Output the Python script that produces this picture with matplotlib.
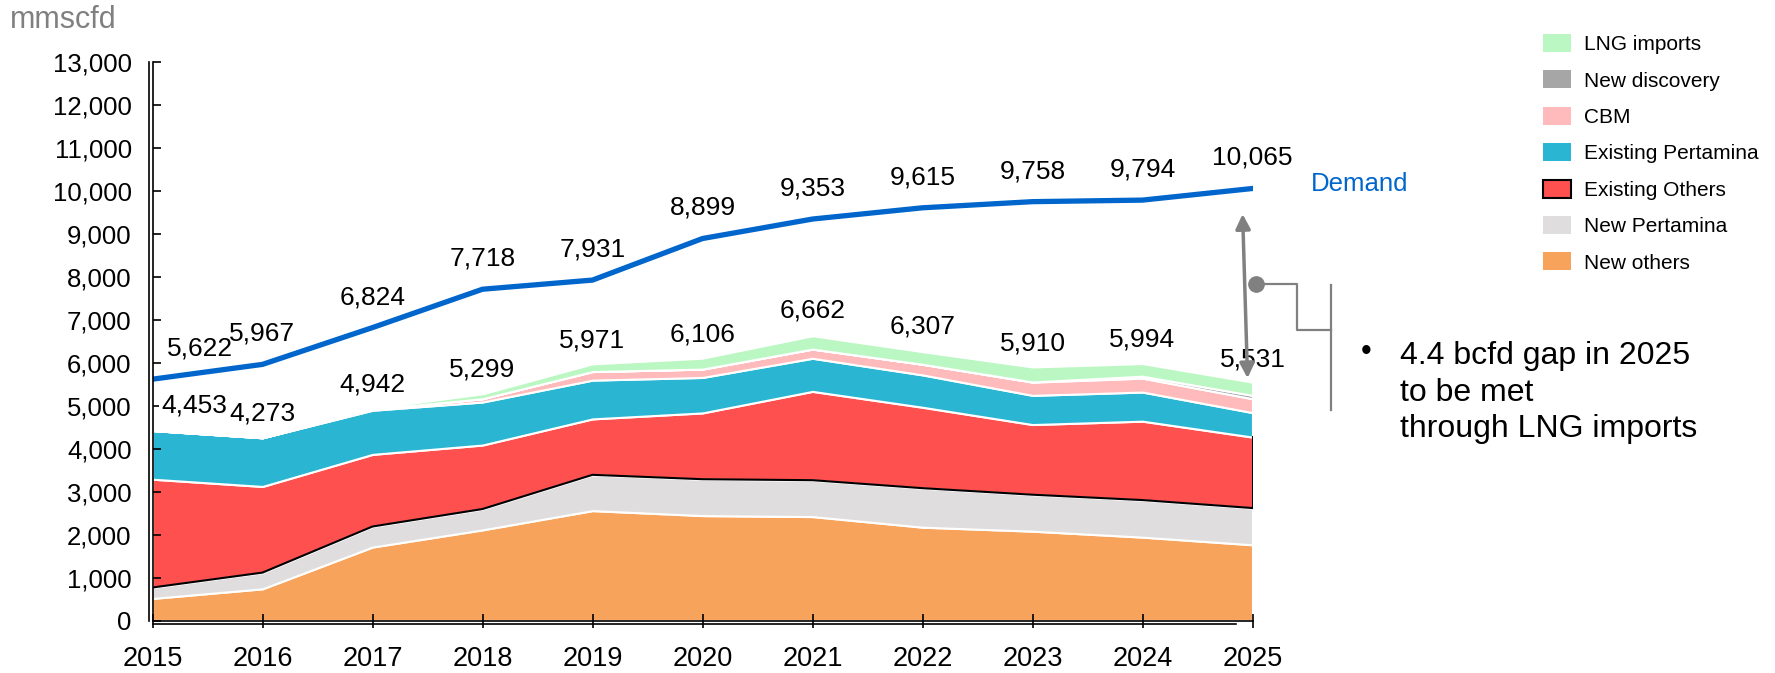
import numpy as np
import matplotlib
matplotlib.use("Agg")
import matplotlib.pyplot as plt
from matplotlib.patches import Patch
from matplotlib.ticker import StrMethodFormatter
from matplotlib.transforms import offset_copy

plt.rcParams['font.family'] = ['Liberation Sans', 'DejaVu Sans']

years = np.arange(2015, 2026)

# gas supply by source, mmscfd (stacked, bottom to top)
new_others = [514, 738, 1711, 2111, 2560, 2444, 2421, 2174, 2081, 1942, 1764]
new_pertamina = [255, 378, 479, 486, 834, 848, 848, 909, 850, 864, 856]
existing_others = [2523, 2007, 1680, 1491, 1303, 1544, 2069, 1885, 1634, 1838, 1653]
existing_pertamina = [1134, 1134, 1028, 1002, 903, 826, 771, 754, 680, 678, 570]
cbm = [0, 0, 20, 77, 200, 195, 215, 248, 308, 324, 324]
new_discovery = [0, 0, 0, 0, 0, 0, 0, 0, 5, 46, 78]
lng_imports = [27, 16, 24, 115, 180, 255, 310, 294, 349, 294, 308]

supply_labels = [4453, 4273, 4942, 5299, 5971, 6106, 6662, 6307, 5910, 5994, 5531]
demand = [5622, 5967, 6824, 7718, 7931, 8899, 9353, 9615, 9758, 9794, 10065]

layers = [new_others, new_pertamina, existing_others, existing_pertamina,
          cbm, new_discovery, lng_imports]
names = ['New others', 'New Pertamina', 'Existing Others', 'Existing Pertamina',
         'CBM', 'New discovery', 'LNG imports']
colors = ['#F7A35C', '#DFDDDE', '#FF5050', '#2AB6D2', '#FFBBBB', '#A6A6A6', '#BBF7C2']

fig = plt.figure(figsize=(17.75, 6.73), dpi=100)
ax = fig.add_axes([152.5 / 1775, 52.5 / 673, 1100 / 1775, 558 / 673])

ax.stackplot(years, layers, colors=colors, edgecolor='white', linewidth=1.5, zorder=1)

# black outline under/right of Existing Others
cum = np.cumsum(layers, axis=0)
ax.plot(years, cum[1], color='black', lw=1.5, zorder=2)
ax.plot([years[-1], years[-1]], [cum[1][-1], cum[2][-1]], color='black', lw=1.5, zorder=2)

ax.plot(years, demand, color='#0066CC', lw=3.8, zorder=3, solid_joinstyle='miter')

box = dict(boxstyle='square,pad=0.1', fc='white', ec='none')
for i, (x, v) in enumerate(zip(years, supply_labels)):
    dx = 30 if i == 0 else 0
    ax.annotate(f'{v:,}', (x, v), xytext=(dx, 17), textcoords='offset points',
                ha='center', va='center', fontsize=19, bbox=box,
                zorder=4.5 if i == 0 else 4, annotation_clip=False)
for i, (x, v) in enumerate(zip(years, demand)):
    dx = 34 if i == 0 else 0
    ax.annotate(f'{v:,}', (x, v), xytext=(dx, 22), textcoords='offset points',
                ha='center', va='center', fontsize=19, zorder=4,
                annotation_clip=False)

ax.text(2025.53, 10160, 'Demand', color='#0066CC', fontsize=18.5, va='center')

# gap arrow and bracket
ax.annotate('', xy=(2024.955, 5646), xytext=(2024.91, 9470),
            arrowprops=dict(arrowstyle='<|-|>', color='#808080', lw=2.5,
                            mutation_scale=22, shrinkA=0, shrinkB=0),
            zorder=5, annotation_clip=False)
ax.plot([2025.03], [7845], 'o', color='#808080', ms=11, clip_on=False, zorder=5)
ax.plot([2025.03, 2025.4, 2025.4, 2025.71], [7845, 7845, 6764, 6764],
        color='#808080', lw=1.6, clip_on=False)
ax.plot([2025.71, 2025.71], [7806, 4912], color='#808080', lw=1.6, clip_on=False)
ax.text(2026.03, 6250, '•', fontsize=22, va='center', ha='center')
ax.text(2026.34, 5310, '4.4 bcfd gap in 2025\nto be met\nthrough LNG imports',
        fontsize=23, va='center', ha='left', linespacing=1.29)

ax.set_xlim(2015, 2025)
ax.set_ylim(0, 13000)
ax.set_xticks(years)
ax.set_yticks(np.arange(0, 13001, 1000))
ax.yaxis.set_major_formatter(StrMethodFormatter('{x:,.0f}'))
ax.tick_params(axis='y', direction='in', length=6, width=1.2, labelsize=18.5, pad=15)
ax.tick_params(axis='x', direction='inout', length=10, width=1.2, labelsize=19.5, pad=13)
for s in ['top', 'right']:
    ax.spines[s].set_visible(False)
for s in ['left', 'bottom']:
    ax.spines[s].set_linewidth(1.2)
    ax.spines[s].set_zorder(6)

# doubled axis lines
tl = offset_copy(ax.transAxes, fig=fig, x=-3.5, y=0, units='dots')
ax.plot([0, 0], [0, 1], transform=tl, color='black', lw=1.2, clip_on=False, zorder=6)
tb = offset_copy(ax.transAxes, fig=fig, x=0, y=-3.5, units='dots')
ax.plot([0, 0.985], [0, 0], transform=tb, color='black', lw=1.2, clip_on=False, zorder=6)

fig.text(10 / 1775, 1 - 20.5 / 673, 'mmscfd', color='#808080', fontsize=22, va='center')

handles = []
for n, c in zip(names, colors):
    ec = 'black' if n == 'Existing Others' else c
    handles.append(Patch(facecolor=c, edgecolor=ec, lw=1.5 if n == 'Existing Others' else 0, label=n))
fig.legend(handles[::-1], names[::-1], loc='upper left',
           bbox_to_anchor=(1543 / 1775, 1 - 34 / 673), frameon=False,
           fontsize=15, handlelength=1.35, handleheight=0.95, handletextpad=0.6,
           labelspacing=0.78, borderpad=0, borderaxespad=0)

fig.savefig('out.png', dpi=100)
